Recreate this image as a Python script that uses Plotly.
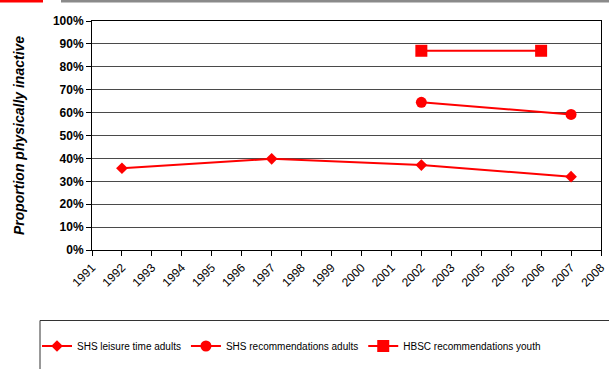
import plotly.graph_objects as go

tick_labels = ["1991", "1992", "1993", "1994", "1995", "1996", "1997", "1998", "1999",
               "2000", "2001", "2002", "2003", "2005", "2005", "2006", "2007", "2008"]

leisure_years = ["1992", "1997", "2002", "2007"]
leisure_vals = [0.357, 0.398, 0.371, 0.320]

rec_years = ["2002", "2007"]
rec_vals = [0.645, 0.592]

hbsc_years = ["2002", "2006"]
hbsc_vals = [0.870, 0.870]


def pos(years):
    return [tick_labels.index(y) for y in years]


RED = "#FF0000"
FONT = "Arial, Liberation Sans, sans-serif"

fig = go.Figure()
fig.add_trace(go.Scatter(x=pos(leisure_years), y=leisure_vals, mode="lines+markers",
                         name="SHS leisure time adults",
                         line=dict(color=RED, width=2),
                         marker=dict(symbol="diamond", size=9, color=RED)))
fig.add_trace(go.Scatter(x=pos(rec_years), y=rec_vals, mode="lines+markers",
                         name="SHS recommendations adults",
                         line=dict(color=RED, width=2),
                         marker=dict(symbol="circle", size=11, color=RED)))
fig.add_trace(go.Scatter(x=pos(hbsc_years), y=hbsc_vals, mode="lines+markers",
                         name="HBSC recommendations youth",
                         line=dict(color=RED, width=2),
                         marker=dict(symbol="square", size=12, color=RED)))

fig.update_layout(
    width=609, height=369,
    margin=dict(l=92, r=8, t=21, b=119, autoexpand=False),
    paper_bgcolor="white", plot_bgcolor="white",
    font=dict(family=FONT, color="black"),
    showlegend=True,
    legend=dict(orientation="h", x=(37 - 92) / 509, xanchor="left",
                y=(250 - 346) / 229, yanchor="middle",
                font=dict(size=10, family=FONT, color="black"),
                bgcolor="rgba(0,0,0,0)", borderwidth=0,
                itemwidth=30, tracegroupgap=0),
    xaxis=dict(range=[0, 17], tickmode="array", tickvals=list(range(len(tick_labels))),
               ticktext=tick_labels, tickangle=-45, ticks="outside", ticklen=5,
               tickcolor="black", showline=True, linecolor="black", linewidth=1,
               mirror=True, showgrid=False, zeroline=False,
               tickfont=dict(size=12, family=FONT, color="black")),
    yaxis=dict(range=[0, 1], dtick=0.1, tickformat=".0%", ticks="outside", ticklen=5,
               tickcolor="black", showline=True, linecolor="black", linewidth=1,
               mirror=True, showgrid=True, gridcolor="#4a4a4a", gridwidth=1,
               zeroline=False,
               tickfont=dict(size=12, family=FONT, color="black", weight="bold"),
               title=dict(text="<b><i>Proportion physically inactive</i></b>",
                          font=dict(size=14, family=FONT, color="black"),
                          standoff=24)),
    shapes=[
        dict(type="rect", xref="paper", yref="paper",
             x0=(40 - 92) / 509, x1=1.2, y0=(250 - 320.5) / 229, y1=-0.8,
             line=dict(color="#333333", width=1), fillcolor="rgba(0,0,0,0)"),
        dict(type="rect", xref="paper", yref="paper",
             x0=-92 / 509, x1=(43 - 92) / 509, y0=(250 - 2.5) / 229, y1=1.2,
             line=dict(width=0), fillcolor=RED),
        dict(type="rect", xref="paper", yref="paper",
             x0=(61 - 92) / 509, x1=1.2, y0=(250 - 2.5) / 229, y1=1.2,
             line=dict(width=0), fillcolor="#8a8a8a"),
    ],
)

fig.write_html("out.html")
